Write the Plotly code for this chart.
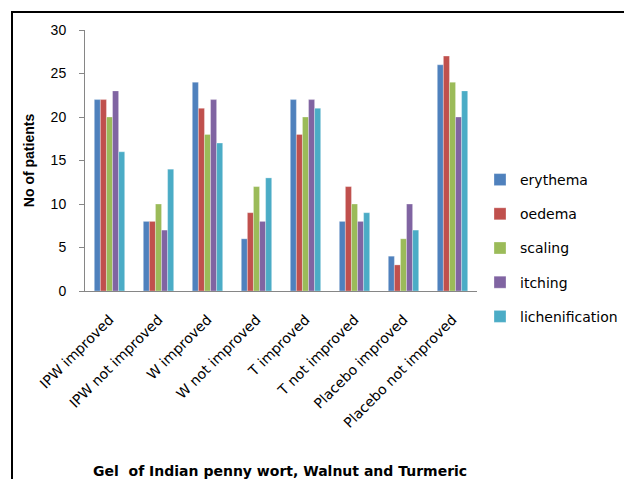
import plotly.graph_objects as go

categories = ["IPW improved", "IPW not improved", "W improved", "W not improved",
              "T improved", "T not improved", "Placebo improved", "Placebo not improved"]
erythema = [22, 8, 24, 6, 22, 8, 4, 26]
oedema = [22, 8, 21, 9, 18, 12, 3, 27]
scaling = [20, 10, 18, 12, 20, 10, 6, 24]
itching = [23, 7, 22, 8, 22, 8, 10, 20]
lichenification = [16, 14, 17, 13, 21, 9, 7, 23]

series = [
    ("erythema", erythema, "#4F81BD"),
    ("oedema", oedema, "#C0504D"),
    ("scaling", scaling, "#9BBB59"),
    ("itching", itching, "#8064A2"),
    ("lichenification", lichenification, "#4BACC6"),
]

FONT = "Liberation Sans, Arial, sans-serif"
WIDE = "DejaVu Sans, sans-serif"

fig = go.Figure()
for name, vals, col in series:
    fig.add_trace(go.Bar(
        x=categories, y=vals, name=name, legendgroup=name,
        marker=dict(color=col, line=dict(width=0.5, color="rgba(255,255,255,0.6)")),
    ))

W, H = 624, 479
l, r, t, b = 85, W - 477, 30, H - 291
pw, ph = W - l - r, H - t - b

def px(x):
    return (x - l) / pw

def py(y):
    return (H - b - y) / ph

fig.add_shape(type="rect", xref="paper", yref="paper",
              x0=px(12), x1=px(640), y0=py(12), y1=py(500),
              line=dict(color="black", width=2), fillcolor="rgba(0,0,0,0)", layer="above")

fig.add_annotation(xref="paper", yref="paper", x=px(280), y=py(471),
                   text="<b>Gel  of Indian penny wort, Walnut and Turmeric</b>",
                   showarrow=False, xanchor="center", yanchor="middle",
                   font=dict(size=14, family=WIDE, color="black"))

fig.update_layout(
    width=W, height=H,
    margin=dict(l=l, r=r, t=t, b=b, pad=0, autoexpand=False),
    paper_bgcolor="white", plot_bgcolor="white",
    barmode="group", bargap=0.38, bargroupgap=0,
    font=dict(family=FONT, size=13, color="black"),
    showlegend=True,
    legend=dict(x=px(480), y=py(164), xanchor="left", yanchor="top",
                font=dict(size=14, family=WIDE), tracegroupgap=13,
                itemwidth=30, bgcolor="rgba(0,0,0,0)"),
    xaxis=dict(showline=True, linecolor="#868686", linewidth=1, ticks="",
               tickangle=-45, tickfont=dict(size=14, family=WIDE),
               ticklabelstandoff=14, showgrid=False),
    yaxis=dict(range=[0, 30], dtick=5, showline=True, linecolor="#868686", linewidth=1,
               ticks="outside", ticklen=5, tickcolor="#868686",
               tickfont=dict(size=14, family=FONT), ticklabelstandoff=10,
               showgrid=False, zeroline=False,
               title=dict(text="<b>No of patients</b>", font=dict(size=14, family=FONT),
                          standoff=12)),
)

fig.write_html("out.html")
